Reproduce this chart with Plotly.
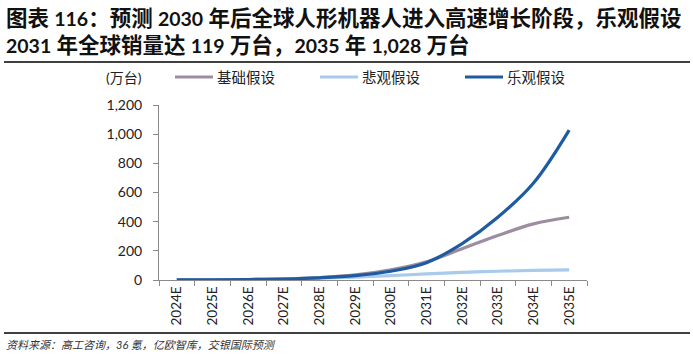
import re
import plotly.graph_objects as go

categories = ["2024E", "2025E", "2026E", "2027E", "2028E", "2029E",
              "2030E", "2031E", "2032E", "2033E", "2034E", "2035E"]
base_vals = [0.5, 1.5, 3.5, 8, 17, 35, 70, 125, 215, 305, 385, 430]
pess_vals = [0.5, 1.5, 3, 6, 12, 20, 30, 42, 52, 60, 66, 70]
opt_vals = [0.5, 1.5, 3.5, 7, 15, 30, 60, 119, 250, 430, 665, 1028]

series_names = ["基础假设", "悲观假设", "乐观假设"]
series_colors = ["#9C8E9F", "#A8CAEC", "#1E5BA1"]
y_ticks = [0, 200, 400, 600, 800, 1000, 1200]

title_line1 = "图表 116：预测 2030 年后全球人形机器人进入高速增长阶段，乐观假设"
title_line2 = "2031 年全球销量达 119 万台，2035 年 1,028 万台"
unit_label = "(万台)"
source_text = "资料来源：高工咨询，36 氪，亿欧智库，交银国际预测"

W, H = 693, 357
L, R, T, B = 159, 587, 105, 280  # plot area in px


def px(x):
    return (x - L) / (R - L)


def py(y):
    return (B - y) / (B - T)


def title_markup(s):
    # Latin digits slightly smaller than the CJK glyphs, as in the reference
    return "<b>" + re.sub(r"([0-9,]+)", r'<span style="font-size:19.5px">\1</span>', s) + "</b>"


fig = go.Figure()
for name, vals, col in [(series_names[0], base_vals, series_colors[0]),
                        (series_names[1], pess_vals, series_colors[1]),
                        (series_names[2], opt_vals, series_colors[2])]:
    fig.add_trace(go.Scatter(
        x=categories, y=vals, mode="lines", name=name,
        line=dict(color=col, width=3.2, shape="spline", smoothing=1.0),
        showlegend=False, hoverinfo="skip"))

cjk = "Lato, 'Noto Sans CJK SC', sans-serif"

fig.update_layout(
    width=W, height=H,
    margin=dict(l=L, r=W - R, t=T, b=H - B, pad=0),
    paper_bgcolor="white", plot_bgcolor="white",
    font=dict(family=cjk, color="#222222", size=13),
    xaxis=dict(
        type="category", categoryorder="array", categoryarray=categories,
        range=[-0.5, len(categories) - 0.5],
        showline=True, linecolor="#8a8a8a", linewidth=1,
        ticks="outside", ticklen=5, tickcolor="#8a8a8a", tickwidth=1,
        tickson="boundaries", tickangle=-90,
        tickfont=dict(size=13.5, family=cjk, color="#222222"),
        showgrid=False, zeroline=False, fixedrange=True),
    yaxis=dict(
        range=[0, 1200], tickvals=y_ticks, tickformat=",",
        showline=True, linecolor="#8a8a8a", linewidth=1,
        ticks="outside", ticklen=5, tickcolor="#8a8a8a", tickwidth=1,
        ticklabelstandoff=8,
        tickfont=dict(size=14, family=cjk, color="#222222"),
        showgrid=False, zeroline=False, fixedrange=True),
)

shapes = []
annotations = []

# rules
shapes.append(dict(type="line", xref="paper", yref="paper",
                   x0=px(4), x1=px(690), y0=py(62), y1=py(62),
                   line=dict(color="black", width=1.3)))
shapes.append(dict(type="line", xref="paper", yref="paper",
                   x0=px(4), x1=px(690), y0=py(333), y1=py(333),
                   line=dict(color="black", width=1.3)))

# title
annotations.append(dict(text=title_markup(title_line1), xref="paper", yref="paper",
                        x=px(4), y=py(18), xanchor="left", yanchor="middle",
                        showarrow=False, font=dict(size=21.5, family=cjk, color="#111111")))
annotations.append(dict(text=title_markup(title_line2), xref="paper", yref="paper",
                        x=px(4), y=py(45), xanchor="left", yanchor="middle",
                        showarrow=False, font=dict(size=21.5, family=cjk, color="#111111")))

# legend
annotations.append(dict(text=unit_label, xref="paper", yref="paper",
                        x=px(104), y=py(77), xanchor="left", yanchor="middle",
                        showarrow=False, font=dict(size=14, family=cjk, color="#222222")))
leg_x = [175, 320, 465]
for i, (nm, col) in enumerate(zip(series_names, series_colors)):
    x0 = leg_x[i]
    shapes.append(dict(type="line", xref="paper", yref="paper",
                       x0=px(x0), x1=px(x0 + 38), y0=py(77), y1=py(77),
                       line=dict(color=col, width=3.2)))
    annotations.append(dict(text=nm, xref="paper", yref="paper",
                            x=px(x0 + 40), y=py(77), xanchor="left", yanchor="middle",
                            showarrow=False, font=dict(size=14.5, family=cjk, color="#222222")))

# source
annotations.append(dict(text=source_text, xref="paper", yref="paper",
                        x=px(4), y=py(344), xanchor="left", yanchor="middle",
                        showarrow=False,
                        font=dict(size=11, family=cjk, color="#333333", style="italic")))

fig.update_layout(shapes=shapes, annotations=annotations)
fig.write_html("out.html",
               config={"displayModeBar": False},
               post_script="document.body.style.margin='0';document.body.style.overflow='hidden';")
